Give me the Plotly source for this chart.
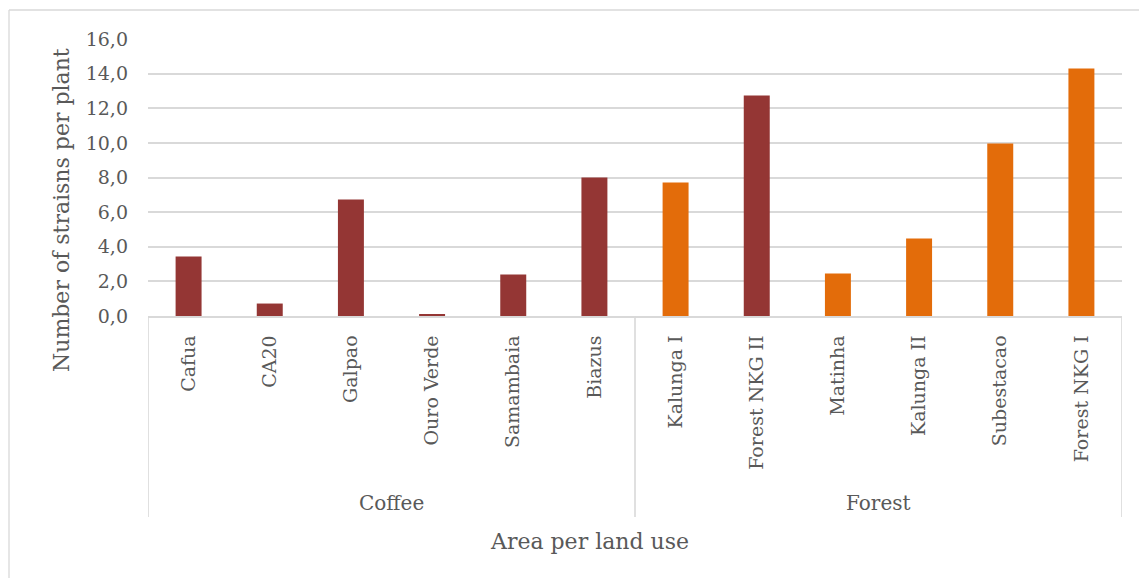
import plotly.graph_objects as go

# Sites grouped by land use, with the mean number of strains per plant
sites = ["Cafua", "CA20", "Galpao", "Ouro Verde", "Samambaia", "Biazus",
         "Kalunga I", "Forest NKG II", "Matinha", "Kalunga II", "Subestacao", "Forest NKG I"]
land_use = ["Coffee"] * 6 + ["Forest"] * 6
strains = [3.44, 0.72, 6.73, 0.09, 2.40, 8.00,
           7.71, 12.74, 2.45, 4.48, 9.97, 14.30]
bar_colors = ["#943634"] * 6 + ["#E36C0A", "#943634", "#E36C0A", "#E36C0A", "#E36C0A", "#E36C0A"]
groups = ["Coffee", "Forest"]
y_ticks = [0, 2, 4, 6, 8, 10, 12, 14, 16]

W, H = 1139, 578
L, R, T, B = 148, 17, 39, 262
PW, PH = W - L - R, H - T - B

FONT = "DejaVu Serif"
GREY_TXT = "#595959"
GRID = "#d9d9d9"


def px_x(p):
    return (p - L) / PW


def px_y(p):
    return (H - B - p) / PH


fig = go.Figure(go.Bar(
    x=sites, y=strains, marker=dict(color=bar_colors, line=dict(width=0)),
    width=0.32, hoverinfo="x+y",
))

fig.update_layout(
    width=W, height=H, autosize=False,
    margin=dict(l=L, r=R, t=T, b=B),
    paper_bgcolor="white", plot_bgcolor="white",
    separators=", ",
    showlegend=False,
    font=dict(family=FONT, color=GREY_TXT),
)

fig.update_xaxes(
    type="category", tickangle=-90, ticks="", showgrid=False,
    showline=True, linecolor=GRID, linewidth=1.6,
    tickfont=dict(family=FONT, size=19, color=GREY_TXT),
    ticklabelstandoff=10, range=[-0.5, len(sites) - 0.5],
)
fig.update_yaxes(
    range=[0, 16], tickvals=y_ticks, tickformat=".1f", ticks="",
    showgrid=True, gridcolor=GRID, gridwidth=1.6, zeroline=False,
    tickfont=dict(family=FONT, size=19, color=GREY_TXT),
    ticklabelstandoff=19,
)

shapes = []
# group box lines under the category axis
for xb in [-0.5, 5.5, 11.5]:
    shapes.append(dict(type="line", xref="x", yref="paper", x0=xb, x1=xb,
                       y0=0, y1=px_y(517), line=dict(color=GRID, width=1.6)))
# chart area border (top and left edges)
shapes.append(dict(type="line", xref="paper", yref="paper", x0=px_x(9), x1=px_x(1145),
                   y0=px_y(10), y1=px_y(10), line=dict(color=GRID, width=1.3)))
shapes.append(dict(type="line", xref="paper", yref="paper", x0=px_x(9), x1=px_x(9),
                   y0=px_y(10), y1=px_y(585), line=dict(color=GRID, width=1.3)))
fig.update_layout(shapes=shapes)

annotations = []
for i, g in enumerate(groups):
    members = [k for k, lu in enumerate(land_use) if lu == g]
    xc = (members[0] + members[-1]) / 2
    annotations.append(dict(x=xc, y=px_y(503), xref="x", yref="paper", text=g,
                            showarrow=False, xanchor="center", yanchor="middle",
                            font=dict(family=FONT, size=20, color=GREY_TXT)))
annotations.append(dict(x=px_x(589), y=px_y(541), xref="paper", yref="paper",
                        text="Area per land use", showarrow=False,
                        xanchor="center", yanchor="middle",
                        font=dict(family=FONT, size=22, color=GREY_TXT)))
annotations.append(dict(x=px_x(61), y=px_y(210), xref="paper", yref="paper",
                        text="Number of straisns per plant", showarrow=False,
                        textangle=-90, xanchor="center", yanchor="middle",
                        font=dict(family=FONT, size=22, color=GREY_TXT)))
fig.update_layout(annotations=annotations)

fig.write_html("out.html")
